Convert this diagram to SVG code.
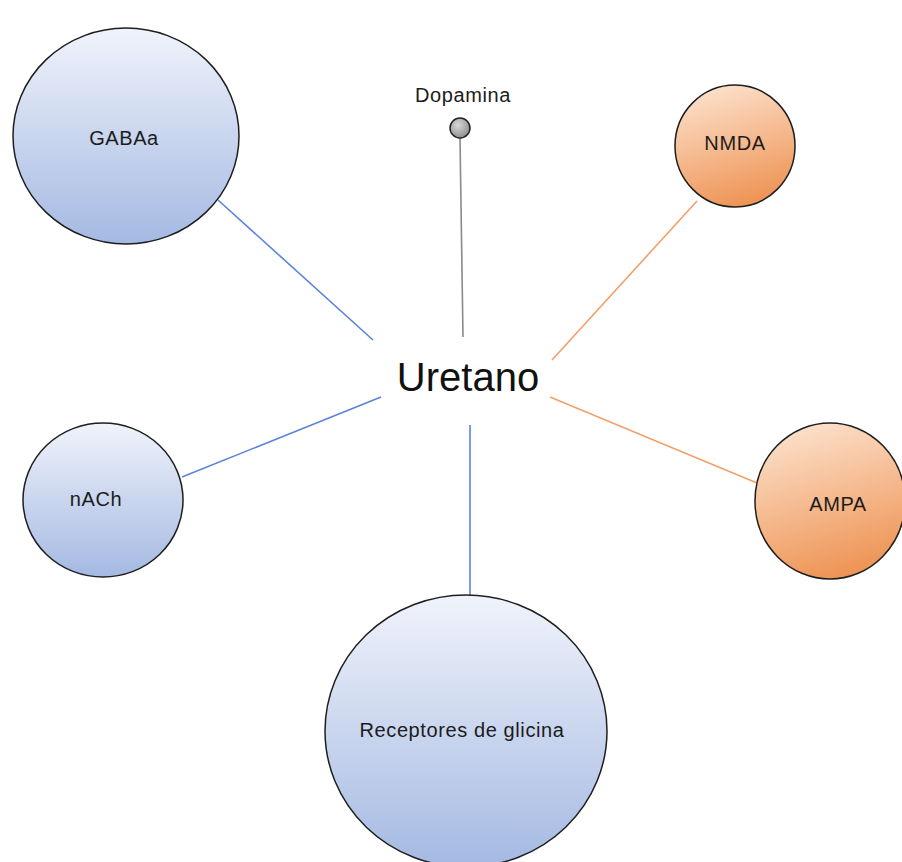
<svg xmlns="http://www.w3.org/2000/svg" width="902" height="862" viewBox="0 0 902 862">
<defs>
<linearGradient id="blue" x1="0" y1="0" x2="0" y2="1">
<stop offset="0" stop-color="#f0f3fb"/>
<stop offset="1" stop-color="#a4b9e2"/>
</linearGradient>
<linearGradient id="orange" x1="0.3" y1="0" x2="0.6" y2="1">
<stop offset="0" stop-color="#fce1cc"/>
<stop offset="1" stop-color="#ee9252"/>
</linearGradient>
<radialGradient id="dot" cx="0.4" cy="0.35" r="0.7">
<stop offset="0" stop-color="#d8d8d8"/>
<stop offset="1" stop-color="#8a8a8a"/>
</radialGradient>
<style>
.node{stroke:#1e1e1e;stroke-width:1.5}
.b{fill:url(#blue)}
.o{fill:url(#orange)}
.lbl{font-family:"Liberation Sans",Arial,sans-serif;font-size:20px;letter-spacing:0.6px;fill:#1c1c1c;text-anchor:middle;dominant-baseline:central}
.blue{stroke:#5b84d8;stroke-width:1.6}
.org{stroke:#f0a06a;stroke-width:1.6}
.gray{stroke:#8a8a8a;stroke-width:1.6}
</style>
</defs>
<rect width="902" height="862" fill="#ffffff"/>
<g id="connectors" fill="none">
<line class="blue" x1="218" y1="200" x2="373" y2="340"/>
<line class="blue" x1="182" y1="477" x2="381" y2="397"/>
<line class="blue" x1="470" y1="425" x2="470" y2="596"/>
<line class="org" x1="697" y1="201" x2="552" y2="360"/>
<line class="org" x1="550" y1="397" x2="757" y2="483"/>
<line class="gray" x1="460" y1="138" x2="463" y2="337"/>
</g>
<g id="uretano">
<text x="468" y="391" font-family="'Liberation Sans',Arial,sans-serif" font-size="40" fill="#111" text-anchor="middle">Uretano</text>
</g>
<g id="gabaa">
<ellipse class="node b" cx="126" cy="136" rx="113" ry="108"/>
<text class="lbl" x="124" y="138">GABAa</text>
</g>
<g id="dopamina">
<text class="lbl" x="463" y="95">Dopamina</text>
<circle cx="460" cy="128" r="10" fill="url(#dot)" stroke="#222" stroke-width="1.5"/>
</g>
<g id="nmda">
<ellipse class="node o" cx="735" cy="146" rx="60" ry="61"/>
<text class="lbl" x="735" y="143">NMDA</text>
</g>
<g id="nach">
<ellipse class="node b" cx="103" cy="500" rx="80" ry="77"/>
<text class="lbl" x="96" y="499">nACh</text>
</g>
<g id="ampa">
<ellipse class="node o" cx="830" cy="501" rx="75" ry="78"/>
<text class="lbl" x="838" y="504">AMPA</text>
</g>
<g id="glicina">
<ellipse class="node b" cx="466" cy="731" rx="141" ry="136"/>
<text class="lbl" x="462" y="730">Receptores de glicina</text>
</g>
</svg>
